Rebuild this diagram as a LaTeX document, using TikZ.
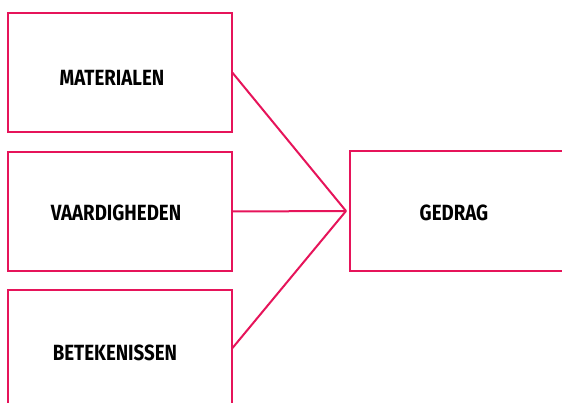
\documentclass[tikz,border=0pt]{standalone}
\usepackage{fontspec}
\newfontfamily\lblfont{Fira Sans}[FakeStretch=0.85]
\definecolor{accent}{RGB}{230,20,90}
\begin{document}
\begin{tikzpicture}[x=1pt,y=-1pt,
  box/.style={draw=accent,line width=2pt,rectangle,inner sep=0pt},
  lbl/.style={inner sep=0pt,font=\lblfont\bfseries\fontsize{22}{26}\selectfont,text=black},
  link/.style={draw=accent,line width=2pt}]
\useasboundingbox (0,0) rectangle (562,403);
\clip (0,0) rectangle (562,403);
\node[box,minimum width=223.5pt,minimum height=118.5pt] (b1) at (119.75,72.75) {};
\node[box,minimum width=223.5pt,minimum height=119pt] (b2) at (119.75,211.5) {};
\node[box,minimum width=223.5pt,minimum height=116pt] (b3) at (119.75,348) {};
\node[box,minimum width=240pt,minimum height=120pt] (g) at (470,211) {};
\node[lbl] (t1) at (112,78) {MATERIALEN};
\node[lbl] (t2) at (116,213) {VAARDIGHEDEN};
\node[lbl] (t3) at (115,353) {BETEKENISSEN};
\node[lbl] (t4) at (454,212.5) {GEDRAG};
\coordinate (c) at ([xshift=-3pt]g.west);
\draw[link] (b1.east) -- (c);
\draw[link] (b2.east) -- (c);
\draw[link] (b3.east) -- (c);
\end{tikzpicture}
\end{document}
